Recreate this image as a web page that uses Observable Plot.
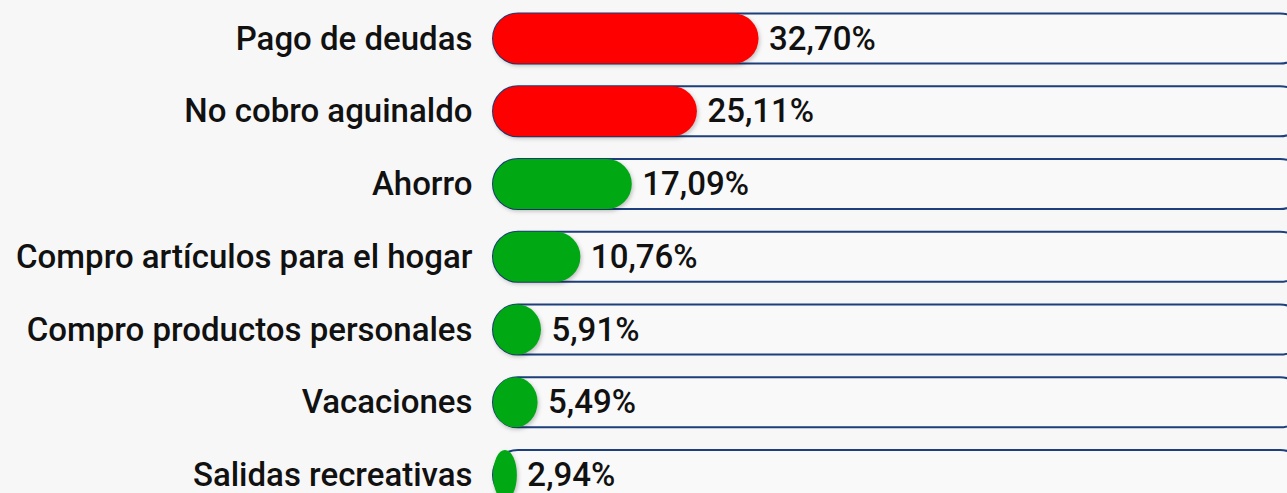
<!DOCTYPE html>
<html>
<head>
<meta charset="utf-8">
<script src="https://cdn.jsdelivr.net/npm/d3@7"></script>
<script src="https://cdn.jsdelivr.net/npm/@observablehq/plot@0.6"></script>
<style>
  html, body { margin: 0; padding: 0; background: #f7f7f7; overflow: hidden; }
  #chart svg { overflow: hidden; display: block; }
</style>
</head>
<body>
<div id="chart"></div>
<script>
const categories = ["Pago de deudas", "No cobro aguinaldo", "Ahorro", "Compro artículos para el hogar", "Compro productos personales", "Vacaciones", "Salidas recreativas"];
const values = [32.70, 25.11, 17.09, 10.76, 5.91, 5.49, 2.94];
const colors = ["#ff0000", "#ff0000", "#00a814", "#00a814", "#00a814", "#00a814", "#00a814"];
const trackMax = 100;

const rows = categories.map((c, i) => ({cat: c, value: values[i], color: colors[i], track: trackMax}));
const fmt = v => v.toFixed(2).replace(".", ",") + "%";

const chart = Plot.plot({
  width: 1287,
  height: 493,
  margin: 0,
  style: {background: "#f7f7f7", fontFamily: "Roboto, sans-serif"},
  x: {domain: [0, 100], range: [493, 1305], axis: null},
  y: {domain: categories, range: [2.1, 511.4], paddingInner: 0.31, paddingOuter: 0.155, round: false, axis: null},
  marks: [
    Plot.barX(rows, {x1: 0, x2: "track", y: "cat", fill: "#f9f9f9", stroke: "#1d3f7c", strokeWidth: 2, rx: 25}),
    Plot.barX(rows, {x1: 0, x2: "value", y: "cat", fill: "color", rx: 25}),
    Plot.text(rows, {x: 0, y: "cat", text: "cat", textAnchor: "end", dx: -21, dy: 0, fontSize: 33, fontWeight: 500, fill: "#111"}),
    Plot.text(rows, {x: "value", y: "cat", text: d => fmt(d.value), textAnchor: "start", dx: 10, dy: 0, fontSize: 33, fontWeight: 500, fill: "#111"})
  ]
});
d3.select(chart).selectAll("g[aria-label='bar']").filter((d, i) => i === 1)
  .style("filter", "drop-shadow(1px 2px 2px rgba(0,0,0,0.25))");
document.getElementById("chart").appendChild(chart);
</script>
</body>
</html>
